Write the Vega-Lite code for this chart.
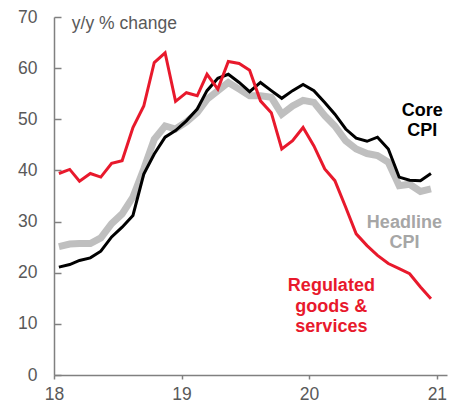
{
  "$schema": "https://vega.github.io/schema/vega-lite/v6.json",
  "width": 393,
  "height": 358,
  "autosize": {"type": "none"},
  "padding": {"left": 54, "top": 17, "right": 16, "bottom": 32},
  "config": {"view": {"stroke": null}, "font": "Liberation Sans"},
  "datasets": {
    "cpi": [
      {"date": "2018-01-15", "core": 21.1, "headline": 25.1, "regulated": 39.4},
      {"date": "2018-02-15", "core": 21.6, "headline": 25.6, "regulated": 40.2},
      {"date": "2018-03-15", "core": 22.4, "headline": 25.7, "regulated": 37.9},
      {"date": "2018-04-15", "core": 22.9, "headline": 25.7, "regulated": 39.4},
      {"date": "2018-05-15", "core": 24.2, "headline": 26.8, "regulated": 38.7},
      {"date": "2018-06-15", "core": 27.0, "headline": 29.6, "regulated": 41.4},
      {"date": "2018-07-15", "core": 28.9, "headline": 31.5, "regulated": 41.9},
      {"date": "2018-08-15", "core": 31.2, "headline": 34.8, "regulated": 48.4},
      {"date": "2018-09-15", "core": 39.3, "headline": 40.3, "regulated": 52.6},
      {"date": "2018-10-15", "core": 43.2, "headline": 46.1, "regulated": 61.1},
      {"date": "2018-11-15", "core": 46.5, "headline": 48.7, "regulated": 63.0},
      {"date": "2018-12-15", "core": 47.8, "headline": 48.1, "regulated": 53.5},
      {"date": "2019-01-15", "core": 49.7, "headline": 49.5, "regulated": 55.2},
      {"date": "2019-02-15", "core": 52.0, "headline": 51.3, "regulated": 54.6},
      {"date": "2019-03-15", "core": 55.6, "headline": 53.9, "regulated": 58.8},
      {"date": "2019-04-15", "core": 58.0, "headline": 55.6, "regulated": 55.9},
      {"date": "2019-05-15", "core": 58.8, "headline": 57.2, "regulated": 61.3},
      {"date": "2019-06-15", "core": 57.2, "headline": 55.9, "regulated": 60.9},
      {"date": "2019-07-15", "core": 55.4, "headline": 54.6, "regulated": 59.6},
      {"date": "2019-08-15", "core": 57.2, "headline": 54.6, "regulated": 53.6},
      {"date": "2019-09-15", "core": 55.6, "headline": 54.3, "regulated": 51.3},
      {"date": "2019-10-15", "core": 54.1, "headline": 51.0, "regulated": 44.2},
      {"date": "2019-11-15", "core": 55.6, "headline": 52.6, "regulated": 45.8},
      {"date": "2019-12-15", "core": 56.8, "headline": 53.7, "regulated": 48.4},
      {"date": "2020-01-15", "core": 55.6, "headline": 53.3, "regulated": 44.8},
      {"date": "2020-02-15", "core": 53.3, "headline": 50.7, "regulated": 40.3},
      {"date": "2020-03-15", "core": 51.0, "headline": 48.7, "regulated": 38.0},
      {"date": "2020-04-15", "core": 48.1, "headline": 45.8, "regulated": 32.8},
      {"date": "2020-05-15", "core": 46.3, "headline": 44.2, "regulated": 27.6},
      {"date": "2020-06-15", "core": 45.7, "headline": 43.3, "regulated": 25.3},
      {"date": "2020-07-15", "core": 46.5, "headline": 42.9, "regulated": 23.4},
      {"date": "2020-08-15", "core": 44.2, "headline": 41.6, "regulated": 21.8},
      {"date": "2020-09-15", "core": 38.7, "headline": 37.0, "regulated": 20.8},
      {"date": "2020-10-15", "core": 38.1, "headline": 37.3, "regulated": 19.8},
      {"date": "2020-11-15", "core": 38.0, "headline": 35.9, "regulated": 17.2},
      {"date": "2020-12-15", "core": 39.4, "headline": 36.4, "regulated": 14.9}
    ],
    "titles": [
      {"date": "2018-02-21", "value": 67.7, "text": "y/y % change"}
    ],
    "labels": [
      {"date": "2020-11-20", "value": 51.7, "text": "Core\nCPI", "series": "Core"},
      {"date": "2020-09-30", "value": 29.8, "text": "Headline\nCPI", "series": "Headline"},
      {"date": "2020-03-05", "value": 17.4, "text": "Regulated\ngoods &\nservices", "series": "Regulated"}
    ]
  },
  "encoding": {
    "x": {
      "field": "date",
      "type": "temporal",
      "scale": {
        "type": "utc",
        "domain": [
          {"year": 2018, "month": 1, "date": 1, "utc": true},
          {"year": 2021, "month": 1, "date": 30, "utc": true}
        ]
      },
      "axis": {
        "title": null,
        "grid": false,
        "values": [
          {"year": 2018, "month": 1, "date": 1, "utc": true},
          {"year": 2019, "month": 1, "date": 1, "utc": true},
          {"year": 2020, "month": 1, "date": 1, "utc": true},
          {"year": 2021, "month": 1, "date": 1, "utc": true}
        ],
        "format": "%y",
        "domainColor": "#808080",
        "domainWidth": 1.5,
        "tickColor": "#808080",
        "tickWidth": 1.5,
        "tickSize": 4,
        "labelColor": "#595959",
        "labelFontSize": 17.5,
        "labelPadding": 6,
        "labelFlush": false,
        "labelOverlap": false
      }
    }
  },
  "layer": [
    {
      "data": {"name": "cpi"},
      "mark": {"type": "line", "color": "#bfbfbf", "strokeWidth": 7},
      "encoding": {
        "y": {
          "field": "headline",
          "type": "quantitative",
          "scale": {"domain": [0, 70], "nice": false},
          "axis": {
            "title": null,
            "grid": false,
            "values": [0, 10, 20, 30, 40, 50, 60, 70],
            "domainColor": "#808080",
            "domainWidth": 1.5,
            "tickColor": "#808080",
            "tickWidth": 1.5,
            "tickSize": -7,
            "labelColor": "#595959",
            "labelFontSize": 17.5,
            "labelPadding": 24,
            "labelFlush": false,
            "labelOverlap": false
          }
        }
      }
    },
    {
      "data": {"name": "cpi"},
      "mark": {"type": "line", "color": "#000000", "strokeWidth": 3},
      "encoding": {"y": {"field": "core", "type": "quantitative"}}
    },
    {
      "data": {"name": "cpi"},
      "mark": {"type": "line", "color": "#e8192c", "strokeWidth": 3},
      "encoding": {"y": {"field": "regulated", "type": "quantitative"}}
    },
    {
      "data": {"name": "titles"},
      "mark": {"type": "text", "align": "left", "baseline": "alphabetic", "fontSize": 17.5, "color": "#595959"},
      "encoding": {
        "y": {"field": "value", "type": "quantitative"},
        "text": {"field": "text", "type": "nominal"}
      }
    },
    {
      "data": {"name": "labels"},
      "mark": {"type": "text", "align": "center", "baseline": "middle", "fontSize": 18, "fontWeight": "bold", "lineBreak": "\n", "lineHeight": 20.5},
      "encoding": {
        "y": {"field": "value", "type": "quantitative"},
        "text": {"field": "text", "type": "nominal"},
        "color": {
          "field": "series",
          "type": "nominal",
          "scale": {"domain": ["Core", "Headline", "Regulated"], "range": ["#000000", "#a6a6a6", "#e8192c"]},
          "legend": null
        }
      }
    }
  ]
}
